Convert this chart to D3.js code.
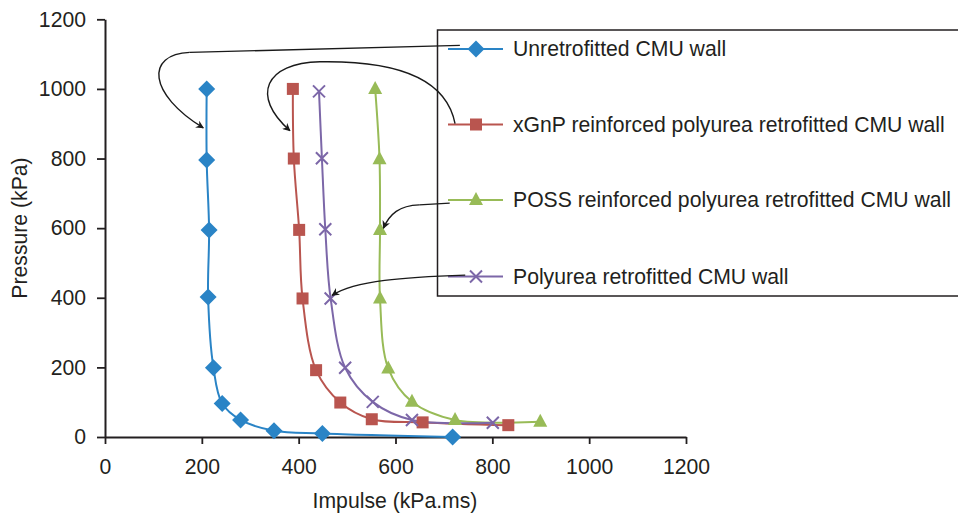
<!DOCTYPE html>
<html>
<head>
<meta charset="utf-8">
<script src="https://cdn.jsdelivr.net/npm/d3@7"></script>
<style>
  body { margin: 0; background: #fff; }
  text { font-family: "Liberation Sans", Arial, sans-serif; fill: #231f20; }
</style>
</head>
<body>
<div id="chart"></div>
<script>
(function () {

    const width = 958, height = 513;

    // series (impulse kPa.ms, pressure kPa)
    const seriesNames = [
        "Unretrofitted CMU wall",
        "xGnP reinforced polyurea retrofitted CMU wall",
        "POSS reinforced polyurea retrofitted CMU wall",
        "Polyurea retrofitted CMU wall"
    ];
    const unretroImpulse = [210, 210, 215, 213, 224, 242, 280, 349, 449, 718];
    const unretroPressure = [1000, 796, 595, 402, 199, 96, 49, 18, 10, 0];
    const xgnpImpulse = [388, 390, 401, 408, 436, 486, 551, 656, 833];
    const xgnpPressure = [1000, 800, 595, 398, 192, 99, 51, 42, 34];
    const possImpulse = [558, 567, 568, 568, 585, 634, 723, 899];
    const possPressure = [1000, 798, 595, 398, 197, 101, 49, 44];
    const polyImpulse = [442, 448, 455, 466, 496, 553, 634, 801];
    const polyPressure = [993, 801, 597, 398, 199, 101, 49, 41];

    const xTicks = [0, 200, 400, 600, 800, 1000, 1200];
    const yTicks = [0, 200, 400, 600, 800, 1000, 1200];

    const colors = ["#2a84c6", "#b9554f", "#98bb57", "#7c67a8"];
    const shapes = ["diamond", "square", "triangle", "cross"];

    const series = [
        { x: unretroImpulse, y: unretroPressure },
        { x: xgnpImpulse, y: xgnpPressure },
        { x: possImpulse, y: possPressure },
        { x: polyImpulse, y: polyPressure }
    ].map((s, i) => ({
        name: seriesNames[i], color: colors[i], shape: shapes[i],
        points: s.x.map((v, j) => [v, s.y[j]])
    }));

    const x = d3.scaleLinear().domain([0, 1200]).range([105, 686]);
    const y = d3.scaleLinear().domain([0, 1200]).range([437, 19.3]);

    const svg = d3.select('#chart').append('svg')
        .attr('width', width)
        .attr('height', height);

    // axes
    const fmt = d3.format("d");
    const xAxis = svg.append("g")
        .attr("transform", `translate(0,${y(0)})`)
        .call(d3.axisBottom(x).tickValues(xTicks).tickFormat(fmt).tickSize(7).tickPadding(10).tickSizeOuter(0));
    const yAxis = svg.append("g")
        .attr("transform", `translate(${x(0)},0)`)
        .call(d3.axisLeft(y).tickValues(yTicks).tickFormat(fmt).tickSize(8).tickPadding(11).tickSizeOuter(0));
    [xAxis, yAxis].forEach(a => {
        a.select(".domain").attr("stroke", "#231f20").attr("stroke-width", 2);
        a.selectAll(".tick line").attr("stroke", "#231f20").attr("stroke-width", 1.8);
        a.selectAll(".tick text")
            .attr("font-size", 21.2)
            .attr("font-family", '"Liberation Sans", Arial, sans-serif')
            .attr("fill", "#231f20");
    });
    xAxis.selectAll(".tick text").attr("dy", "0.95em");

    svg.append("text")
        .attr("x", 395).attr("y", 508)
        .attr("text-anchor", "middle")
        .attr("font-size", 21.2)
        .text("Impulse (kPa.ms)");
    svg.append("text")
        .attr("transform", "translate(27,228) rotate(-90)")
        .attr("text-anchor", "middle")
        .attr("font-size", 21.2)
        .text("Pressure (kPa)");

    // marker drawing
    function marker(g, shape, color) {
        if (shape === "diamond") {
            g.append("path").attr("d", "M0,-8.5L8.5,0L0,8.5L-8.5,0Z").attr("fill", color);
        } else if (shape === "square") {
            g.append("rect").attr("x", -6).attr("y", -6).attr("width", 12).attr("height", 12).attr("fill", color);
        } else if (shape === "triangle") {
            g.append("path").attr("d", "M0,-8L7,5L-7,5Z").attr("fill", color);
        } else {
            g.append("path").attr("d", "M-6,-6L6,6M6,-6L-6,6")
                .attr("stroke", color).attr("stroke-width", 2).attr("fill", "none");
        }
    }

    const line = d3.line()
        .x(d => x(d[0]))
        .y(d => y(d[1]))
        .curve(d3.curveCatmullRom.alpha(0.5));

    series.forEach(s => {
        svg.append("path")
            .attr("d", line(s.points))
            .attr("fill", "none")
            .attr("stroke", s.color)
            .attr("stroke-width", 2);
    });
    series.forEach(s => {
        s.points.forEach(p => {
            const g = svg.append("g").attr("transform", `translate(${x(p[0])},${y(p[1])})`);
            marker(g, s.shape, s.color);
        });
    });

    // legend
    const legend = svg.append("g");
    legend.append("rect")
        .attr("x", 437.5).attr("y", 30)
        .attr("width", 530).attr("height", 266)
        .attr("fill", "none").attr("stroke", "#231f20").attr("stroke-width", 1.5);
    const legendRows = [49, 124.5, 200, 276.5];
    series.forEach((s, i) => {
        const ly = legendRows[i];
        legend.append("line")
            .attr("x1", 448).attr("x2", 503).attr("y1", ly).attr("y2", ly)
            .attr("stroke", s.color).attr("stroke-width", 2);
        marker(legend.append("g").attr("transform", `translate(476,${ly})`), s.shape, s.color);
        legend.append("text")
            .attr("x", 513).attr("y", ly)
            .attr("dy", "0.35em")
            .attr("font-size", 21.2)
            .text(s.name);
    });

    // callout arrows from legend to curves (points given in data units)
    svg.append("defs").append("marker")
        .attr("id", "arrow")
        .attr("viewBox", "0 0 10 10")
        .attr("refX", 9).attr("refY", 5)
        .attr("markerWidth", 8).attr("markerHeight", 8)
        .attr("markerUnits", "userSpaceOnUse")
        .attr("orient", "auto")
        .append("path").attr("d", "M0,0L10,5L0,10L3,5Z").attr("fill", "#1a1a1a");

    const callouts = [
        [[733, 1125], [175, 1105], [83, 1100], [89, 985], [203, 888]],
        [[723, 900], [702, 1053], [568, 1081], [444, 1078], [331, 1075], [300, 980], [382, 880]],
        [[712, 672], [649, 667], [608, 665], [588, 641], [575, 600]],
        [[744, 465], [619, 459], [517, 450], [469, 407]]
    ];
    const bez = pts => {
        let d = `M${x(pts[0][0])},${y(pts[0][1])}`;
        for (let i = 1; i < pts.length; i += 3) {
            d += `C${x(pts[i][0])},${y(pts[i][1])} ${x(pts[i + 1][0])},${y(pts[i + 1][1])} ${x(pts[i + 2][0])},${y(pts[i + 2][1])}`;
        }
        return d;
    };
    callouts.forEach(pts => {
        let p = pts;
        if (pts.length === 5) {
            // straight lead-in then a curve
            svg.append("path")
                .attr("d", `M${x(pts[0][0])},${y(pts[0][1])}L${x(pts[1][0])},${y(pts[1][1])}`)
                .attr("fill", "none").attr("stroke", "#1a1a1a").attr("stroke-width", 1.4);
            p = pts.slice(1);
        }
        svg.append("path")
            .attr("d", bez(p))
            .attr("fill", "none")
            .attr("stroke", "#1a1a1a")
            .attr("stroke-width", 1.4)
            .attr("marker-end", "url(#arrow)");
    });
})();
</script>
</body>
</html>
